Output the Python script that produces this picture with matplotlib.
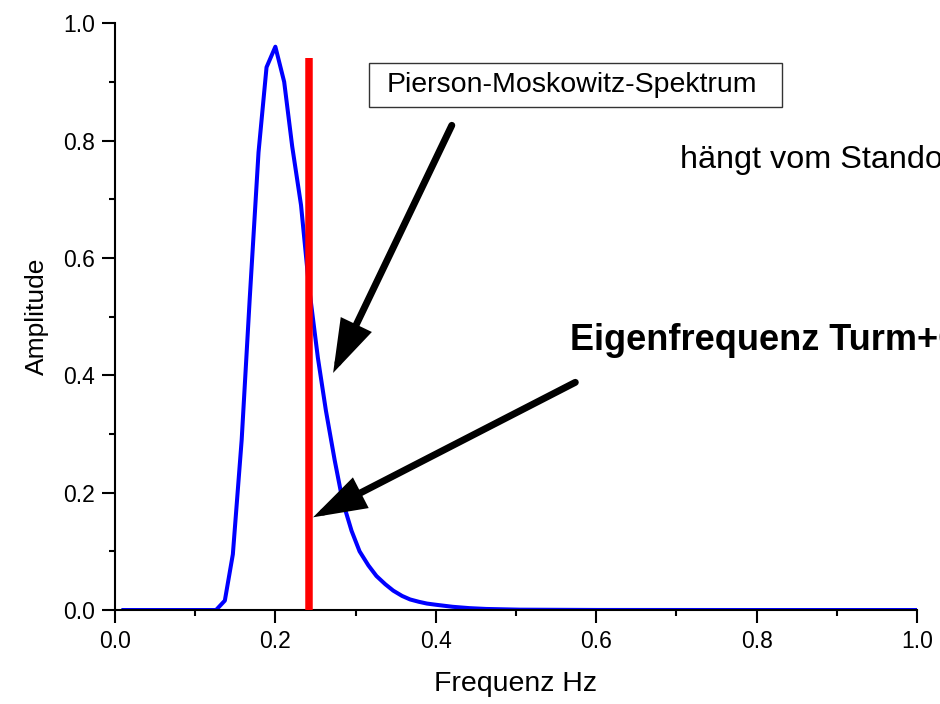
import matplotlib
matplotlib.use("Agg")
import matplotlib.pyplot as plt
from matplotlib.patches import Rectangle

plt.rcParams['font.family'] = ['Liberation Sans', 'DejaVu Sans']

freq = [0.0105, 0.126, 0.137, 0.147, 0.158, 0.168, 0.179, 0.189, 0.200, 0.211,
        0.221, 0.232, 0.242, 0.253, 0.263, 0.274, 0.284, 0.295, 0.305, 0.316,
        0.326, 0.337, 0.347, 0.358, 0.368, 0.379, 0.389, 0.400, 0.421, 0.442,
        0.463, 0.505, 0.600, 0.800, 1.000]
amp = [0.0, 0.0, 0.016, 0.095, 0.29, 0.53, 0.78, 0.925, 0.96, 0.90,
       0.79, 0.69, 0.55, 0.43, 0.34, 0.255, 0.185, 0.135, 0.10, 0.076,
       0.058, 0.044, 0.033, 0.024, 0.018, 0.014, 0.011, 0.009, 0.0055, 0.0032,
       0.0018, 0.0006, 0.0001, 0.0, 0.0]

eigen_f = 0.242
eigen_top = 0.94

fig = plt.figure(figsize=(9.4, 7.04), dpi=100)
ax = fig.add_axes([0.1223, 0.1335, 0.8532, 0.8335])

ax.plot(freq, amp, color='#0000ff', lw=2.9, zorder=2)
ax.plot([eigen_f, eigen_f], [0, eigen_top], color='#ff0000', lw=5.4,
        solid_capstyle='butt', zorder=3)

ax.set_xlim(0, 1.0)
ax.set_ylim(0, 1.0)
ax.set_xticks([0.0, 0.2, 0.4, 0.6, 0.8, 1.0])
ax.set_yticks([0.0, 0.2, 0.4, 0.6, 0.8, 1.0])
ax.set_xticks([0.1, 0.3, 0.5, 0.7, 0.9], minor=True)
ax.set_yticks([0.1, 0.3, 0.5, 0.7, 0.9], minor=True)
ax.set_xticklabels(['0.0', '0.2', '0.4', '0.6', '0.8', '1.0'])
ax.set_yticklabels(['0.0', '0.2', '0.4', '0.6', '0.8', '1.0'])
ax.tick_params(which='major', length=9.5, width=1.5, labelsize=16.5, pad=5)
ax.tick_params(which='minor', length=4.5, width=1.5)
for s in ['top', 'right']:
    ax.spines[s].set_visible(False)
for s in ['left', 'bottom']:
    ax.spines[s].set_linewidth(1.5)

ax.set_xlabel('Frequenz Hz', fontsize=20.5, labelpad=13)
ax.set_ylabel('Amplitude', fontsize=19, labelpad=10)

# labelled box
ax.add_patch(Rectangle((0.317, 0.857), 0.515, 0.075, fill=False,
                       edgecolor='#333333', lw=1.0, clip_on=False))
ax.text(0.339, 0.894, 'Pierson-Moskowitz-Spektrum', fontsize=20.5,
        va='center', ha='left')
ax.text(0.704, 0.767, 'hängt vom Standort', fontsize=23.3, va='center',
        ha='left', clip_on=False)
ax.text(0.567, 0.46, 'Eigenfrequenz Turm+Gondel', fontsize=26,
        fontweight='bold', va='center', ha='left', clip_on=False)

arrow = dict(arrowstyle='-|>,head_length=1.4,head_width=0.45', lw=5,
             color='black', mutation_scale=20, shrinkA=0, shrinkB=0,
             joinstyle='miter')
ax.annotate('', xy=(0.272, 0.404), xytext=(0.420, 0.826), arrowprops=arrow)
ax.annotate('', xy=(0.247, 0.158), xytext=(0.574, 0.388), arrowprops=arrow)

fig.savefig('out.png', dpi=100)
